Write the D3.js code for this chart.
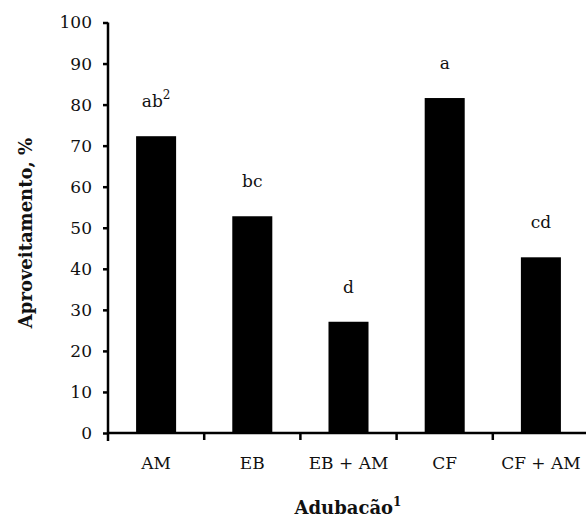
<!DOCTYPE html>
<html lang="pt">
<head>
    <meta charset="UTF-8">
    <title>Aproveitamento</title>
    <script src="https://d3js.org/d3.v7.min.js"></script>
    <style>
        body { margin: 0; background: #fff; }
        svg text { font-family: "DejaVu Serif", serif; fill: #111; }
        .tick-label { font-size: 17px; }
        .title { font-size: 18px; font-weight: bold; }
        .letter { font-size: 17px; text-anchor: middle; }
    </style>
</head>
<body>
<div id="chart"></div>
<script>
    // dados do gráfico
    const categories = ["AM", "EB", "EB + AM", "CF", "CF + AM"];
    const values = [72.3, 52.8, 27.1, 81.6, 42.8];
    const letters = ["ab", "bc", "d", "a", "cd"];
    const letterSup = ["2", "", "", "", ""];
    const yTicks = [0, 10, 20, 30, 40, 50, 60, 70, 80, 90, 100];

    const width = 586, height = 521;
    const svg = d3.select("#chart").append("svg")
        .attr("width", width)
        .attr("height", height);

    // escalas
    const x = d3.scaleBand()
        .domain(categories)
        .range([108, 589])
        .paddingInner(0.584)
        .paddingOuter(0.292);

    const y = d3.scaleLinear()
        .domain([0, 100])
        .range([433, 22.5]);

    const x0 = x.range()[0];
    const step = x.step();

    // barras
    svg.append("g")
        .selectAll("rect")
        .data(values)
        .enter().append("rect")
        .attr("x", (d, i) => x(categories[i]))
        .attr("y", d => y(d))
        .attr("width", x.bandwidth())
        .attr("height", d => y(0) - y(d))
        .attr("fill", "#000");

    // eixo y
    const yAxis = svg.append("g")
        .attr("transform", `translate(${x0},0)`)
        .call(d3.axisLeft(y).tickValues(yTicks).tickSize(5).tickPadding(11))
        .attr("font-family", null)
        .attr("font-size", null);
    yAxis.select(".domain").attr("stroke", "#000").attr("stroke-width", 2.5)
        .attr("d", `M0,${y(100)}V${y(0) + 8}`);
    yAxis.selectAll(".tick line").attr("stroke", "#000").attr("stroke-width", 2.5);
    yAxis.selectAll(".tick text").attr("class", "tick-label").attr("fill", "#111");

    // eixo x (marcas entre categorias)
    const xg = svg.append("g");
    xg.append("line")
        .attr("x1", x0).attr("x2", width + 5)
        .attr("y1", y(0)).attr("y2", y(0))
        .attr("stroke", "#000").attr("stroke-width", 2.5);
    xg.selectAll(".xtick")
        .data(d3.range(1, categories.length))
        .enter().append("line")
        .attr("class", "xtick")
        .attr("x1", i => x0 + i * step).attr("x2", i => x0 + i * step)
        .attr("y1", y(0)).attr("y2", y(0) + 7)
        .attr("stroke", "#000").attr("stroke-width", 2.5);
    xg.selectAll(".xlabel")
        .data(categories)
        .enter().append("text")
        .attr("class", "tick-label")
        .attr("text-anchor", "middle")
        .attr("x", d => x(d) + x.bandwidth() / 2)
        .attr("y", 469)
        .text(d => d);

    // letras de significância
    const lab = svg.append("g").selectAll("text")
        .data(values)
        .enter().append("text")
        .attr("class", "letter")
        .attr("x", (d, i) => x(categories[i]) + x.bandwidth() / 2)
        .attr("y", d => y(d) - 29);
    lab.append("tspan").text((d, i) => letters[i]);
    lab.append("tspan")
        .attr("dy", -8)
        .attr("font-size", 12)
        .text((d, i) => letterSup[i]);

    // títulos
    const xt = svg.append("text")
        .attr("class", "title")
        .attr("text-anchor", "middle")
        .attr("x", 348)
        .attr("y", 514);
    xt.append("tspan").text("Adubacão");
    xt.append("tspan").attr("dy", -8).attr("font-size", 12).text("1");

    svg.append("text")
        .attr("class", "title")
        .attr("text-anchor", "middle")
        .attr("transform", `translate(32,233) rotate(-90)`)
        .text("Aproveitamento, %");
</script>
</body>
</html>
